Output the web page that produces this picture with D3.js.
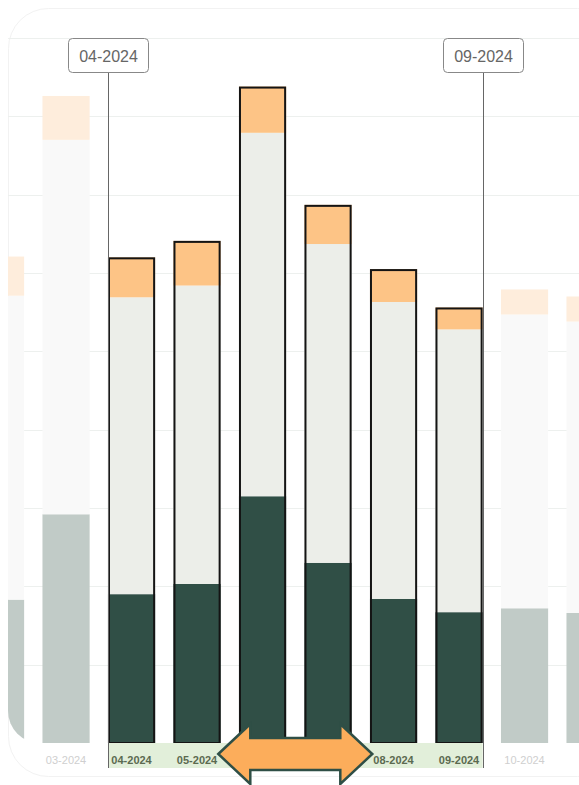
<!DOCTYPE html>
<html><head><meta charset="utf-8">
<script src="https://cdn.jsdelivr.net/npm/d3@7"></script>
<style>html,body{margin:0;padding:0;background:#fff;overflow:hidden}svg{display:block}</style>
</head><body>
<svg id="c" width="579" height="785"></svg>
<script>
const months   = ["02-2024","03-2024","04-2024","05-2024","06-2024","07-2024","08-2024","09-2024","10-2024","11-2024"];
const baseVals = [18.3, 29.2, 19.0, 20.3, 31.5, 23.0, 18.4, 16.7, 17.2, 16.6];
const midVals  = [38.8, 47.8, 37.9, 38.1, 46.4, 40.7, 37.9, 36.1, 37.5, 37.2];
const topVals  = [5.0, 5.6, 5.1, 5.7, 5.9, 5.0, 4.2, 2.8, 3.2, 3.2];
const yTicks   = [0,10,20,30,40,50,60,70,80,90];
const selStart = "04-2024", selEnd = "09-2024";

const svg = d3.select("#c");
const W = 579, H = 785;
const x = d3.scaleBand().domain(months).range([-32.2, 622.8]).paddingInner(0.28).paddingOuter(0.14);
const y = d3.scaleLinear().domain([0, 90]).range([743, 38]);

const i0 = months.indexOf(selStart), i1 = months.indexOf(selEnd);
const bx0 = x(selStart), bx1 = x(selEnd) + x.bandwidth();

// card
svg.append("rect").attr("x",8.5).attr("y",8.5).attr("width",W+30).attr("height",768).attr("rx",40)
  .attr("fill","#fff").attr("stroke","#f2f2f2");
const defs = svg.append("defs");
defs.append("clipPath").attr("id","plotclip").append("rect")
  .attr("x",8).attr("y",8).attr("width",W+40).attr("height",735).attr("rx",32);

const plot = svg.append("g").attr("clip-path","url(#plotclip)");
// grid
plot.selectAll("line.g").data(yTicks).join("line")
  .attr("x1",8).attr("x2",W).attr("y1",d=>Math.round(y(d))+0.5).attr("y2",d=>Math.round(y(d))+0.5)
  .attr("stroke","#edf0ee").attr("stroke-width",1);

const data = months.map((m,i)=>({m, i, sel: i>=i0 && i<=i1, segs:[
  {k:"base", y0:0, y1:baseVals[i]},
  {k:"mid", y0:baseVals[i], y1:baseVals[i]+midVals[i]},
  {k:"top", y0:baseVals[i]+midVals[i], y1:baseVals[i]+midVals[i]+topVals[i]}]}));
const colSel = {base:"#304f46", mid:"#eceee9", top:"#fdc486"};
const colFade = {base:"#c1cbc7", mid:"#f9f9f9", top:"#feeddc"};

const g = plot.selectAll("g.bar").data(data).join("g").attr("class","bar");
g.selectAll("rect.s").data(d=>d.segs.map(s=>({...s, sel:d.sel, m:d.m}))).join("rect")
  .attr("x",d=>x(d.m)).attr("width",x.bandwidth())
  .attr("y",d=>y(d.y1)).attr("height",d=>y(d.y0)-y(d.y1))
  .attr("fill",d=>(d.sel?colSel:colFade)[d.k]);
g.filter(d=>d.sel).append("rect")
  .attr("x",d=>x(d.m)+1).attr("width",x.bandwidth()-2)
  .attr("y",d=>y(d.segs[2].y1)+1).attr("height",d=>y(0)-y(d.segs[2].y1)-1)
  .attr("fill","none").attr("stroke","#141414").attr("stroke-width",2);

// brush bg under labels
svg.append("rect").attr("x",bx0).attr("y",743).attr("width",bx1-bx0).attr("height",25).attr("fill","#e2efda");

// x labels (only those fully inside the card are shown, as in the reference)
const visible = data.filter(d=>x(d.m) >= 8 && x(d.m)+x.bandwidth() <= W);
svg.selectAll("text.xl").data(visible).join("text")
  .attr("x",d=>x(d.m)+x.bandwidth()/2).attr("y",764)
  .attr("text-anchor","middle").attr("font-family","Liberation Sans, Arial, sans-serif")
  .attr("font-size",11).attr("font-weight",d=>d.sel?"bold":"normal")
  .attr("fill",d=>d.sel?"#5b6a50":"#cfcfcf").text(d=>d.m);

// brush handles
[[bx0, selStart],[bx1, selEnd]].forEach(([hx, lab])=>{
  const xx = Math.round(hx)+0.5;
  svg.append("line").attr("x1",xx).attr("x2",xx).attr("y1",72).attr("y2",768).attr("stroke","#666").attr("stroke-width",1);
  svg.append("rect").attr("x",xx-40).attr("y",38.5).attr("width",80).attr("height",34).attr("rx",4)
    .attr("fill","#fff").attr("stroke","#888").attr("stroke-width",1);
  svg.append("text").attr("x",xx).attr("y",61.5).attr("text-anchor","middle")
    .attr("font-family","Liberation Sans, Arial, sans-serif").attr("font-size",16).attr("fill","#666").text(lab);
});

// double arrow
const cx = (bx0+bx1)/2, cy = 754;
const half = 77, head = 32, hh = 30, sh = 16;
const pts = [[cx-half,cy],[cx-half+head,cy-hh],[cx-half+head,cy-sh],[cx+half-head,cy-sh],[cx+half-head,cy-hh],
  [cx+half,cy],[cx+half-head,cy+hh],[cx+half-head,cy+sh],[cx-half+head,cy+sh],[cx-half+head,cy+hh]];
svg.append("path").attr("d", d3.line()(pts)+"Z").attr("fill","#fcad5b").attr("stroke","#2f4f46")
  .attr("stroke-width",2.5).attr("stroke-linejoin","miter");
</script>
</body></html>
